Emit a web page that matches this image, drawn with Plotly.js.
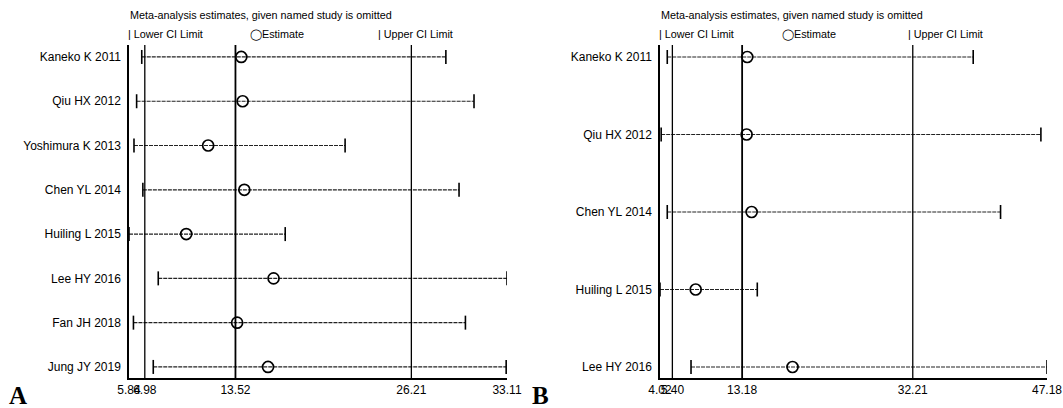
<!DOCTYPE html>
<html><head><meta charset="utf-8">
<script src="https://cdn.plot.ly/plotly-3.0.1.min.js"></script>
<style>html,body{margin:0;padding:0;background:#fff}#chart{width:1063px;height:408px}</style>
</head><body><div id="chart"></div>
<script>
// Panel A data
const studiesA = ['Kaneko K 2011','Qiu HX 2012','Yoshimura K 2013','Chen YL 2014','Huiling L 2015','Lee HY 2016','Fan JH 2018','Jung JY 2019'];
const estA  = [13.94, 14.04, 11.55, 14.16, 9.97, 16.27, 13.64, 15.87];
const lowA  = [6.76, 6.39, 6.20, 6.84, 5.84, 7.95, 6.16, 7.59];
const highA = [28.70, 30.73, 21.43, 29.65, 17.11, 33.11, 30.11, 33.05];
const refA = [6.98, 13.52, 26.21];
const tickValsA = [5.84, 6.98, 13.52, 26.21, 33.11];
const tickTextA = ['5.84', '6.98', '13.52', '26.21', '33.11'];

// Panel B data
const studiesB = ['Kaneko K 2011','Qiu HX 2012','Chen YL 2014','Huiling L 2015','Lee HY 2016'];
const estB  = [13.75, 13.68, 14.24, 8.00, 18.80];
const lowB  = [4.83, 4.15, 4.83, 4.02, 7.48];
const highB = [38.95, 46.50, 42.00, 14.87, 47.18];
const refB = [5.40, 13.18, 32.21];
const tickValsB = [4.02, 5.40, 13.18, 32.21, 47.18];
const tickTextB = ['4.02', '5.40', '13.18', '32.21', '47.18'];

const FONT = '"Liberation Sans Narrow", "Liberation Sans", Arial, sans-serif';
const W = 1063, H = 408;

function segs(lo, hi, cats) {
  const x = [], y = [];
  cats.forEach((c, i) => { x.push(lo[i], hi[i], null); y.push(c, c, null); });
  return {x, y};
}

function panelTraces(cats, est, lo, hi, xa, ya) {
  const s = segs(lo, hi, cats);
  return [
    {type:'scatter', mode:'lines', x:s.x, y:s.y, xaxis:xa, yaxis:ya,
     line:{color:'#222', width:1.2, dash:'4px,1px'}, hoverinfo:'skip', showlegend:false},
    {type:'scatter', mode:'markers', x:lo.concat(hi), y:cats.concat(cats), xaxis:xa, yaxis:ya,
     marker:{symbol:'line-ns', size:10, line:{color:'#000', width:1.6}}, showlegend:false},
    {type:'scatter', mode:'markers', x:est, y:cats, xaxis:xa, yaxis:ya,
     marker:{symbol:'circle-open', size:11, color:'#000', line:{color:'#000', width:1.7}}, showlegend:false}
  ];
}

const data = [].concat(
  panelTraces(studiesA, estA, lowA, highA, 'x', 'y'),
  panelTraces(studiesB, estB, lowB, highB, 'x2', 'y2')
);

const yDom = [(H - 378) / H, (H - 45) / H];

function refShapes(vals, xref, yref) {
  return vals.map((v, i) => ({type:'line', xref:xref, yref:yref + ' domain', x0:v, x1:v, y0:0, y1:1,
    line:{color:'#000', width: i === 1 ? 1.8 : 1.3}}));
}

const axisCommon = {showgrid:false, zeroline:false, showline:true, linecolor:'#000', linewidth:1.7,
  tickfont:{family:FONT, size:12, color:'#000'}, fixedrange:true};

function ann(text, px, py, size, extra) {
  return Object.assign({text:text, xref:'paper', yref:'paper', x:px / W, y:1 - py / H,
    xanchor:'left', yanchor:'middle', showarrow:false, font:{family:FONT, size:size, color:'#000'}}, extra || {});
}

const serif = {family:'"Liberation Serif", "Times New Roman", serif', size:25, color:'#000'};

const layout = {
  width:W, height:H, margin:{l:0, r:0, t:0, b:0}, paper_bgcolor:'#fff', plot_bgcolor:'#fff',
  showlegend:false,
  xaxis: Object.assign({}, axisCommon, {domain:[129/W, 507/W], range:[5.84, 33.11], anchor:'y',
    tickmode:'array', tickvals:tickValsA, ticktext:tickTextA, tickangle:0, ticks:''}),
  yaxis: Object.assign({}, axisCommon, {domain:yDom, type:'category', categoryorder:'array', categoryarray:studiesA,
    range:[7.25, -0.27], anchor:'x', ticks:'', ticklabelstandoff:4}),
  xaxis2: Object.assign({}, axisCommon, {domain:[660/W, 1047/W], range:[4.02, 47.18], anchor:'y2',
    tickmode:'array', tickvals:tickValsB, ticktext:tickTextB, tickangle:0, ticks:''}),
  yaxis2: Object.assign({}, axisCommon, {domain:yDom, type:'category', categoryorder:'array', categoryarray:studiesB,
    range:[4.142, -0.155], anchor:'x2', ticks:'', ticklabelstandoff:4}),
  shapes: [].concat(refShapes(refA, 'x', 'y'), refShapes(refB, 'x2', 'y2')),
  annotations: [
    ann('Meta-analysis estimates, given named study is omitted', 128, 15, 10.8),
    ann('| Lower CI Limit', 126, 34, 10.8),
    ann('◯Estimate', 248, 34, 10.8),
    ann('| Upper CI Limit', 376, 34, 10.8),
    ann('Meta-analysis estimates, given named study is omitted', 659, 15, 10.8),
    ann('| Lower CI Limit', 657, 34, 10.8),
    ann('◯Estimate', 780, 34, 10.8),
    ann('| Upper CI Limit', 906, 34, 10.8),
    ann('<b>A</b>', 7, 395, 25, {font:serif}),
    ann('<b>B</b>', 530, 395, 25, {font:serif})
  ]
};

Plotly.newPlot('chart', data, layout, {staticPlot:true, displayModeBar:false});
</script>
</body></html>
